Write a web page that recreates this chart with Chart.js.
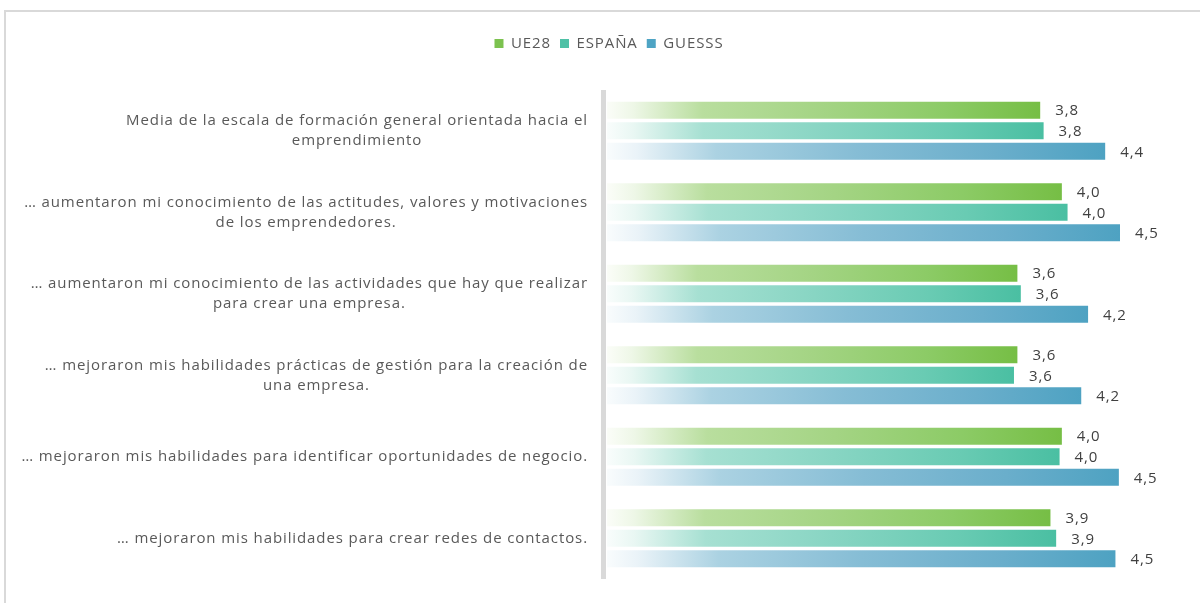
<!DOCTYPE html>
<html>
<head>
<meta charset="utf-8">
<script src="https://cdn.jsdelivr.net/npm/chart.js@4.4.1/dist/chart.umd.min.js"></script>
<style>
  html, body { margin: 0; padding: 0; background: #fff; overflow: hidden; }
  #frame { position: absolute; left: 4px; top: 10px; width: 1300px; height: 700px; border: 2px solid #d9d9d9; }
  #wrap { position: absolute; left: 0; top: 0; width: 1200px; height: 603px; }
</style>
</head>
<body>
<div id="frame"></div>
<div id="wrap"><canvas id="chart"></canvas></div>
<script>
const categories = [
  ['Media de la escala de formación general orientada hacia el', 'emprendimiento'],
  ['… aumentaron mi conocimiento de las actitudes, valores y motivaciones', 'de los emprendedores.'],
  ['… aumentaron mi conocimiento de las actividades que hay que realizar', 'para crear una empresa.'],
  ['… mejoraron mis habilidades prácticas de gestión para la creación de', 'una empresa.'],
  ['… mejoraron mis habilidades para identificar oportunidades de negocio.'],
  ['… mejoraron mis habilidades para crear redes de contactos.']
];
const seriesNames = ['UE28', 'ESPAÑA', 'GUESSS'];
const ue28 = [3.80, 3.99, 3.60, 3.60, 3.99, 3.89];
const espana = [3.83, 4.04, 3.63, 3.57, 3.97, 3.94];
const guesss = [4.37, 4.50, 4.22, 4.16, 4.49, 4.46];

const FONT = '"Open Sans", "DejaVu Sans", sans-serif';
const TEXT = '#595959';

// gradient stops per series (white at the left, full colour at the bar end)
const palettes = [
  { solid: '#7cc24f', stops: ['#fbfdf8', '#eef7e7', '#b9de9e', '#a4d484', '#8ccb66', '#76be45'] },
  { solid: '#4fc1a6', stops: ['#f9fdfc', '#e9f7f3', '#a6e0d2', '#88d5c3', '#69cbb3', '#4abfa2'] },
  { solid: '#4ea4c4', stops: ['#f9fcfd', '#eaf3f8', '#abd2e2', '#86bdd5', '#6aaecb', '#4ea2c2'] }
];
const stopPos = [0, 0.06, 0.22, 0.5, 0.78, 1];

function barFill(idx) {
  return (c) => {
    const p = palettes[idx];
    const chart = c.chart;
    const area = chart.chartArea;
    if (!area || c.raw === undefined || !chart.scales.x) return p.solid;
    const x1 = chart.scales.x.getPixelForValue(c.raw);
    const g = chart.ctx.createLinearGradient(area.left, 0, x1, 0);
    p.stops.forEach((col, i) => g.addColorStop(stopPos[i], col));
    return g;
  };
}

// wide letters, closer to the original Century Gothic look
const spacing = {
  id: 'spacing',
  beforeUpdate(chart) { chart.ctx.letterSpacing = '0.9px'; },
  beforeDraw(chart) { chart.ctx.letterSpacing = '0.9px'; }
};

const legendSpace = {
  id: 'legendSpace',
  beforeInit(chart) {
    const fit = chart.legend.fit;
    chart.legend.fit = function () {
      fit.bind(chart.legend)();
      this.height += 29;
    };
  }
};

const sideLabels = {
  id: 'sideLabels',
  afterDraw(chart) {
    const ctx = chart.ctx;
    const area = chart.chartArea;
    const y = chart.scales.y;
    ctx.save();
    // axis line
    ctx.fillStyle = '#d9d9d9';
    ctx.fillRect(area.left - 6, area.top, 5, area.bottom - area.top);
    // category labels: block right-aligned, lines centred inside the block
    ctx.font = '15px ' + FONT;
    ctx.fillStyle = TEXT;
    ctx.textAlign = 'center';
    ctx.textBaseline = 'middle';
    const lh = 20;
    categories.forEach((lines, i) => {
      const cy = y.getPixelForValue(i);
      const w = Math.max(...lines.map(l => ctx.measureText(l).width));
      const cx = area.left - 19 - w / 2;
      lines.forEach((l, j) => {
        ctx.fillText(l, cx, cy + (j - (lines.length - 1) / 2) * lh);
      });
    });
    ctx.restore();
  }
};

const valueLabels = {
  id: 'valueLabels',
  afterDatasetsDraw(chart) {
    const ctx = chart.ctx;
    ctx.save();
    ctx.font = '15px ' + FONT;
    ctx.fillStyle = '#404040';
    ctx.textAlign = 'left';
    ctx.textBaseline = 'middle';
    chart.data.datasets.forEach((ds, di) => {
      chart.getDatasetMeta(di).data.forEach((el, i) => {
        ctx.fillText(ds.data[i].toFixed(1).replace('.', ','), el.x + 15, el.y + 1);
      });
    });
    ctx.restore();
  }
};

new Chart(document.getElementById('chart'), {
  type: 'bar',
  data: {
    labels: categories,
    datasets: [ue28, espana, guesss].map((d, i) => ({
      label: seriesNames[i],
      data: d,
      backgroundColor: barFill(i),
      borderWidth: 0,
      categoryPercentage: 0.757,
      barPercentage: 0.83
    }))
  },
  options: {
    indexAxis: 'y',
    responsive: true,
    maintainAspectRatio: false,
    animation: false,
    layout: { padding: { top: 27, right: 23, bottom: 24, left: 41 } },
    scales: {
      x: { display: false, min: 0, max: 5 },
      y: {
        grid: { display: false },
        border: { display: false },
        ticks: { display: false },
        afterFit(scale) { scale.width = 566; }
      }
    },
    plugins: {
      legend: {
        position: 'top',
        labels: {
          boxWidth: 9,
          boxHeight: 9,
          padding: 9,
          color: TEXT,
          font: { family: FONT, size: 15 },
          generateLabels(chart) {
            return chart.data.datasets.map((ds, i) => ({
              text: ds.label,
              fillStyle: palettes[i].solid,
              strokeStyle: palettes[i].solid,
              lineWidth: 0,
              fontColor: TEXT,
              hidden: !chart.isDatasetVisible(i),
              datasetIndex: i
            }));
          }
        }
      },
      tooltip: { enabled: false }
    }
  },
  plugins: [spacing, legendSpace, sideLabels, valueLabels]
});
</script>
</body>
</html>
